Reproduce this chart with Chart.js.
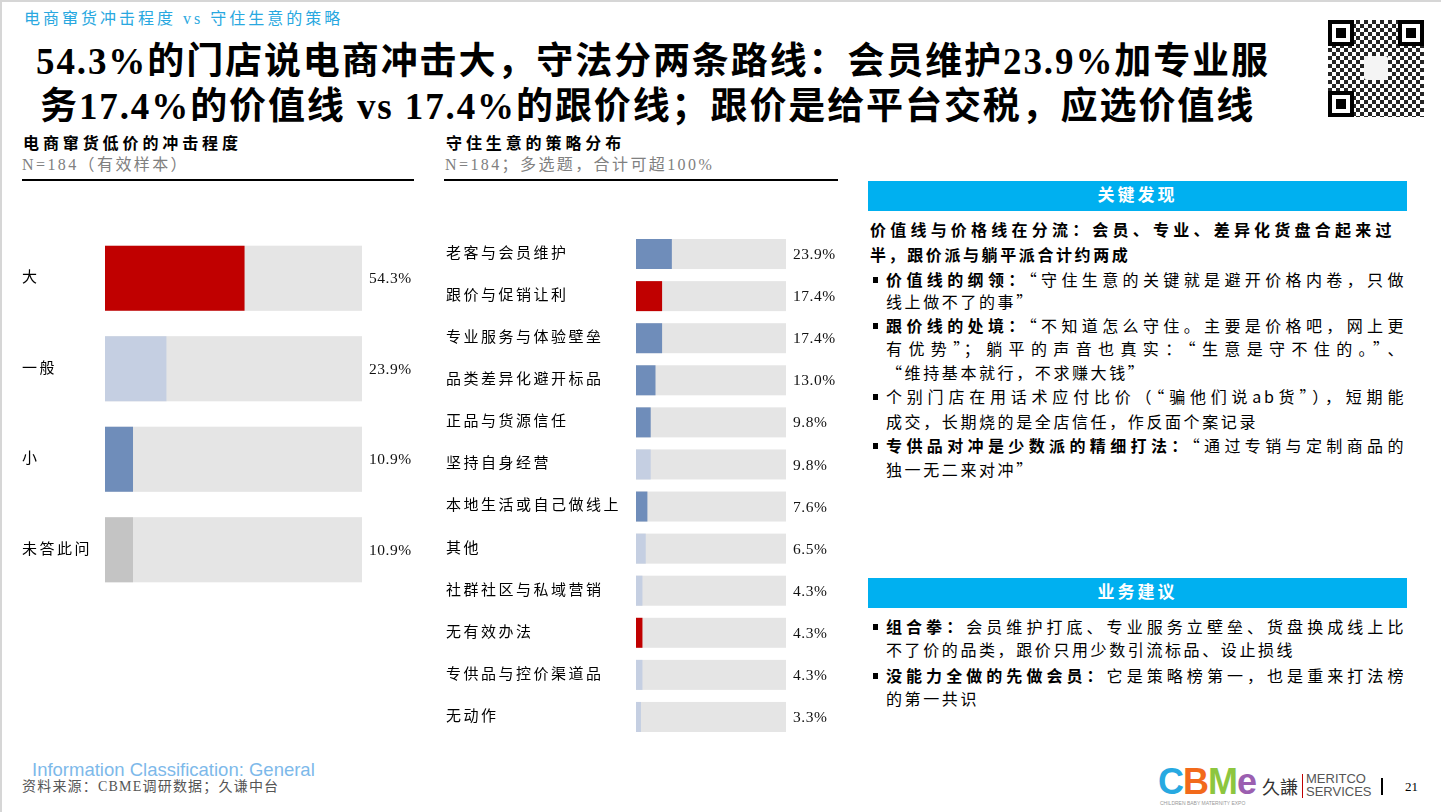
<!DOCTYPE html>
<html lang="zh-CN">
<head>
<meta charset="utf-8">
<script src="https://cdn.jsdelivr.net/npm/chart.js@4.4.1/dist/chart.umd.min.js"></script>
<style>
  body { margin: 0; background: #fff; }
  #slide {
    position: relative; width: 1441px; height: 812px; overflow: hidden;
    font-family: "Liberation Serif", "Noto Sans CJK SC", serif; color: #000;
  }
  #slide::before { content: ""; position: absolute; left: 0; top: 0; width: 1441px; height: 2px; background: #d6d6d6; }
  #slide::after { content: ""; position: absolute; left: 0; top: 0; width: 2px; height: 812px; background: #d6d6d6; }
  .abs { position: absolute; white-space: nowrap; }
  .kicker { left: 24px; top: 5px; font-size: 16px; letter-spacing: 3px; color: #29a8e0; }
  .title { left: 36px; font-size: 37px; font-weight: bold; letter-spacing: 1.9px; line-height: 45px; }
  .head { font-size: 16px; font-weight: bold; letter-spacing: 3.9px; }
  .sub { font-size: 16px; color: #808080; letter-spacing: 2.4px; }
  .rule { height: 2px; background: #000; }
  .chartbox { position: absolute; }
  .band { position: absolute; left: 868px; width: 539px; height: 30px; background: #00b0f0;
          color: #fff; font-weight: bold; font-size: 17px; letter-spacing: 3px; text-align: center; line-height: 30px; }
  .ln { position: absolute; font-family: "Noto Sans CJK SC", sans-serif; font-size: 16px; line-height: 24px; letter-spacing: 2.6px; white-space: nowrap; }
  .ln.j { text-align: justify; text-align-last: justify; }
  .para { left: 870px; width: 524px; }
  .bul { left: 886px; width: 520px; }
  .dot::before { content: ""; position: absolute; left: -13px; top: 10px; width: 5px; height: 6px; background: #000; }
  b { font-weight: bold; }
  .foot1 { left: 32px; top: 759px; font-family: "Liberation Sans", Arial, sans-serif; font-size: 18.5px; color: #7db9ea; }
  .foot2 { left: 22px; top: 775px; font-size: 14px; color: #555; letter-spacing: 1.2px; }
</style>
</head>
<body>
<div id="slide">
  <div class="abs kicker">电商窜货冲击程度 vs 守住生意的策略</div>
  <div class="abs title" style="top:39px">54.3%的门店说电商冲击大，守法分两条路线：会员维护23.9%加专业服</div>
  <div class="abs title" style="top:84px;left:40px">务17.4%的价值线 vs 17.4%的跟价线；跟价是给平台交税，应选价值线</div>

  <!-- QR placeholder -->
  <div class="abs" id="qr" style="left:1328px;top:20px;width:96px;height:97px"></div>

  <div class="abs head" style="left:23px;top:130px">电商窜货低价的冲击程度</div>
  <div class="abs sub" style="left:22px;top:151px">N=184（有效样本）</div>
  <div class="abs rule" style="left:22px;top:179px;width:392px"></div>

  <div class="abs head" style="left:446px;top:130px">守住生意的策略分布</div>
  <div class="abs sub" style="left:445px;top:151px">N=184；多选题，合计可超100%</div>
  <div class="abs rule" style="left:444px;top:179px;width:394px"></div>

  <div class="chartbox" style="left:22px;top:233px;width:395px;height:362px"><canvas id="impactChart"></canvas></div>
  <div class="chartbox" style="left:446px;top:233px;width:395px;height:505px"><canvas id="strategyChart"></canvas></div>

  <div class="band" style="top:181px">关键发现</div>
  <div class="ln para j" style="top:217px"><b>价值线与价格线在分流：会员、专业、差异化货盘合起来过</b></div>
  <div class="ln para" style="top:242px"><b>半，跟价派与躺平派合计约两成</b></div>
  <div class="ln bul j dot" style="top:267px"><b>价值线的纲领：</b>“守住生意的关键就是避开价格内卷，只做</div>
  <div class="ln bul" style="top:289px">线上做不了的事”</div>
  <div class="ln bul j dot" style="top:313px"><b>跟价线的处境：</b>“不知道怎么守住。主要是价格吧，网上更</div>
  <div class="ln bul j" style="top:336px">有优势”；躺平的声音也真实：“生意是守不住的。”、</div>
  <div class="ln bul" style="top:360px">“维持基本就行，不求赚大钱”</div>
  <div class="ln bul j dot" style="top:384px">个别门店在用话术应付比价（“骗他们说ab货”），短期能</div>
  <div class="ln bul" style="top:409px">成交，长期烧的是全店信任，作反面个案记录</div>
  <div class="ln bul j dot" style="top:433px"><b>专供品对冲是少数派的精细打法：</b>“通过专销与定制商品的</div>
  <div class="ln bul" style="top:457px">独一无二来对冲”</div>

  <div class="band" style="top:578px">业务建议</div>
  <div class="ln bul j dot" style="top:614px"><b>组合拳：</b>会员维护打底、专业服务立壁垒、货盘换成线上比</div>
  <div class="ln bul" style="top:637px">不了价的品类，跟价只用少数引流标品、设止损线</div>
  <div class="ln bul j dot" style="top:663px"><b>没能力全做的先做会员：</b>它是策略榜第一，也是重来打法榜</div>
  <div class="ln bul" style="top:686px">的第一共识</div>

  <div class="abs foot1">Information Classification: General</div>
  <div class="abs foot2">资料来源：CBME调研数据；久谦中台</div>

  <!-- logos -->
  <div class="abs" style="left:1158px;top:762px;font-family:'Liberation Sans',sans-serif;font-weight:bold;font-size:36px;letter-spacing:-1px;line-height:40px">
    <span style="color:#27a9e1">C</span><span style="color:#f26a1b">B</span><span style="color:#8dc63f">M</span><span style="color:#9b5fb0">e</span>
  </div>
  <div class="abs" style="left:1160px;top:800px;font-family:'Liberation Sans',sans-serif;font-size:5px;color:#999">CHILDREN BABY MATERNITY EXPO</div>
  <div class="abs" style="left:1262px;top:773px;font-family:'Noto Sans CJK TC',sans-serif;font-size:18px;color:#333;line-height:26px">久謙</div>
  <div class="abs" style="left:1302px;top:774px;width:1px;height:24px;background:#c00000"></div>
  <div class="abs" style="left:1306px;top:772px;font-family:'Liberation Sans',sans-serif;font-size:13px;color:#555;line-height:13px">MERITCO<br>SERVICES</div>
  <div class="abs" style="left:1381px;top:778px;width:2px;height:17px;background:#000"></div>
  <div class="abs" style="left:1405px;top:779px;font-size:13px">21</div>
</div>

<script>
// chart data
const impactLabels = ['大', '一般', '小', '未答此问'];
const impactValues = [54.3, 23.9, 10.9, 10.9];
const impactColors = ['#c00000', '#c5cfe2', '#6f8dba', '#c4c4c4'];

const strategyLabels = ['老客与会员维护', '跟价与促销让利', '专业服务与体验壁垒', '品类差异化避开标品',
  '正品与货源信任', '坚持自身经营', '本地生活或自己做线上', '其他',
  '社群社区与私域营销', '无有效办法', '专供品与控价渠道品', '无动作'];
const strategyValues = [23.9, 17.4, 17.4, 13.0, 9.8, 9.8, 7.6, 6.5, 4.3, 4.3, 4.3, 3.3];
const strategyColors = ['#6f8dba', '#c00000', '#6f8dba', '#6f8dba', '#6f8dba', '#c5cfe2',
  '#6f8dba', '#c5cfe2', '#c5cfe2', '#c00000', '#c5cfe2', '#c5cfe2'];

const scaleMax = 100;
const FONT = '"Liberation Serif", "Noto Sans CJK SC", serif';

// grey track behind each bar + value text after the track
const trackPlugin = {
  id: 'track',
  beforeDraw(chart) {
    chart.ctx.letterSpacing = '2.5px';
  },
  beforeDatasetsDraw(chart) {
    const ctx = chart.ctx, x = chart.scales.x;
    const x0 = x.getPixelForValue(0), x1 = x.getPixelForValue(scaleMax);
    ctx.save();
    ctx.fillStyle = '#e5e5e5';
    chart.getDatasetMeta(0).data.forEach(bar => {
      const p = bar.getProps(['y', 'height'], true);
      ctx.fillRect(x0, p.y - p.height / 2, x1 - x0, p.height);
    });
    ctx.restore();
  },
  afterDatasetsDraw(chart) {
    const ctx = chart.ctx, x = chart.scales.x;
    const vals = chart.data.datasets[0].data;
    ctx.save();
    ctx.letterSpacing = '0.5px';
    ctx.font = '15.5px ' + FONT;
    ctx.fillStyle = '#111';
    ctx.textAlign = 'left';
    ctx.textBaseline = 'middle';
    chart.getDatasetMeta(0).data.forEach((bar, i) => {
      ctx.fillText(vals[i].toFixed(1) + '%', x.getPixelForValue(scaleMax) + 7, bar.y + 1);
    });
    ctx.restore();
  }
};

function makeChart(id, labels, values, colors, axisWidth, barPct) {
  new Chart(document.getElementById(id), {
    type: 'bar',
    data: {
      labels: labels,
      datasets: [{
        data: values,
        backgroundColor: colors,
        borderWidth: 0,
        barPercentage: barPct,
        categoryPercentage: 1
      }]
    },
    options: {
      indexAxis: 'y',
      responsive: true,
      maintainAspectRatio: false,
      animation: false,
      layout: { padding: { left: 0, right: 55, top: 0, bottom: 0 } },
      plugins: { legend: { display: false }, tooltip: { enabled: false } },
      scales: {
        x: { type: 'linear', min: 0, max: scaleMax, display: false },
        y: {
          grid: { display: false },
          border: { display: false },
          ticks: { crossAlign: 'far', padding: 0, color: '#000', font: { family: FONT, size: 15 } },
          afterFit: s => { s.width = axisWidth; s.paddingTop = 0; s.paddingBottom = 0; }
        }
      }
    },
    plugins: [trackPlugin]
  });
}

makeChart('impactChart', impactLabels, impactValues, impactColors, 83, 0.72);
makeChart('strategyChart', strategyLabels, strategyValues, strategyColors, 190, 0.713);

// QR-like decoration
(function () {
  const qr = document.getElementById('qr');
  const finder = (l, t) => {
    const f = document.createElement('div');
    f.style.cssText = `position:absolute;left:${l}px;top:${t}px;width:18px;height:18px;border:4px solid #000;background:#fff;`;
    const c = document.createElement('div');
    c.style.cssText = 'position:absolute;left:4px;top:4px;width:10px;height:10px;background:#000;';
    f.appendChild(c);
    qr.appendChild(f);
  };
  const tex = document.createElement('div');
  tex.style.cssText = 'position:absolute;left:0;top:0;width:96px;height:97px;' +
    'background:repeating-conic-gradient(#000 0 25%, #fff 0 50%) 0 0/8px 8px, #fff;opacity:0.85;';
  qr.appendChild(tex);
  finder(0, 0); finder(70, 0); finder(0, 71);
  const logo = document.createElement('div');
  logo.style.cssText = 'position:absolute;left:36px;top:36px;width:24px;height:24px;background:#f4f4f4;border-radius:3px;';
  qr.appendChild(logo);
})();
</script>
</body>
</html>
